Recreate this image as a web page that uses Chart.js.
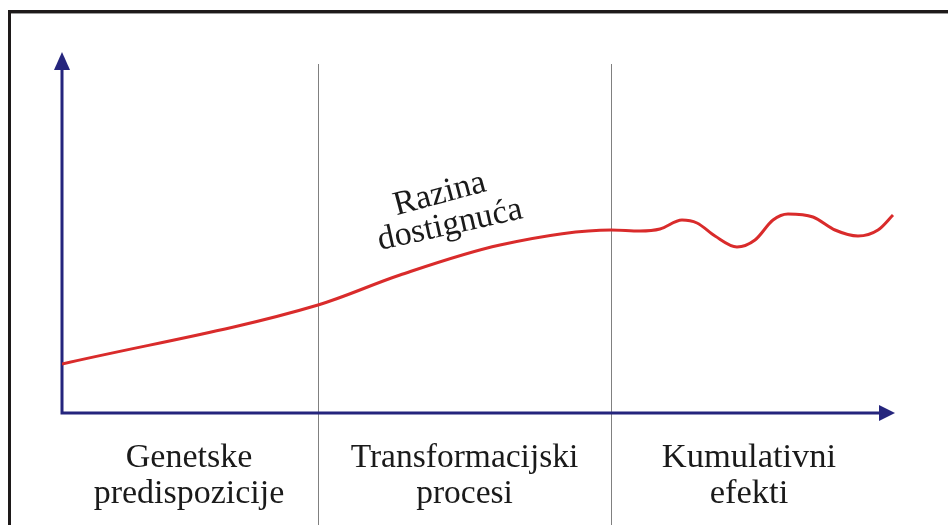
<!DOCTYPE html>
<html>
<head>
<meta charset="utf-8">
<script src="https://cdn.jsdelivr.net/npm/chart.js@4"></script>
<style>
  html, body { margin: 0; padding: 0; background: #fff; }
  #wrap { width: 948px; height: 525px; position: relative; }
</style>
</head>
<body>
<div id="wrap"><canvas id="razinaChart"></canvas></div>
<script>
// Podaci (x od ishodista osi, y iznad osi x)
const pointsX = [0, 256, 338, 438, 549, 578, 598, 620, 635, 653, 675, 693, 711, 726, 751, 773, 796, 816, 831];
const pointsY = [49, 108, 138, 168, 183, 182, 184, 193, 190, 177, 166, 173, 193, 199, 196, 183, 177, 183, 198];
const phaseBounds = [0, 256, 549, 833];
const phaseLabels = [['Genetske', 'predispozicije'], ['Transformacijski', 'procesi'], ['Kumulativni', 'efekti']];
const curveLabel = ['Razina', 'dostignuća'];

const axisColor = '#25257d';
const serif = '"Liberation Serif", "DejaVu Serif", serif';

// Okvir, osi sa strelicama, razdjelnici i tekst
const diagramPlugin = {
    id: 'diagram',
    beforeDatasetsDraw(chart) {
        const c = chart.ctx;
        const x = chart.scales.x, y = chart.scales.y;
        const x0 = x.getPixelForValue(0), y0 = y.getPixelForValue(0);
        const xEnd = x.getPixelForValue(833), yEnd = y.getPixelForValue(361);
        c.save();
        // okvir
        c.fillStyle = '#1e1a1a';
        c.fillRect(8, 10, 940, 3);
        c.fillRect(8, 10, 3, 515);
        c.fillStyle = '#9a9a9a';
        c.fillRect(11, 13, 937, 1);
        // razdjelnici faza
        c.strokeStyle = '#808080';
        c.lineWidth = 1;
        phaseBounds.slice(1, 3).forEach(v => {
            const px = Math.round(x.getPixelForValue(v)) + 0.5;
            c.beginPath();
            c.moveTo(px, 64);
            c.lineTo(px, 525);
            c.stroke();
        });
        // osi
        c.strokeStyle = axisColor;
        c.fillStyle = axisColor;
        c.lineWidth = 3;
        c.beginPath();
        c.moveTo(x0, yEnd + 14);
        c.lineTo(x0, y0);
        c.lineTo(xEnd - 14, y0);
        c.stroke();
        c.beginPath();
        c.moveTo(x0, yEnd);
        c.lineTo(x0 - 8, yEnd + 18);
        c.lineTo(x0 + 8, yEnd + 18);
        c.closePath();
        c.fill();
        c.beginPath();
        c.moveTo(xEnd, y0);
        c.lineTo(xEnd - 16, y0 - 8);
        c.lineTo(xEnd - 16, y0 + 8);
        c.closePath();
        c.fill();
        // oznake faza
        c.fillStyle = '#1a1a1a';
        c.textAlign = 'center';
        c.textBaseline = 'alphabetic';
        const sizes = [34, 33.5, 34.5];
        const shifts = [-1, 0, -4];
        phaseLabels.forEach((lines, i) => {
            const cx = (x.getPixelForValue(phaseBounds[i]) + x.getPixelForValue(phaseBounds[i + 1])) / 2 + shifts[i];
            c.font = sizes[i] + 'px ' + serif;
            lines.forEach((t, j) => c.fillText(t, cx, 467 + j * 36));
        });
        // natpis krivulje
        c.font = '34px ' + serif;
        c.save();
        c.translate(442, 203);
        c.rotate(-0.26);
        c.fillText(curveLabel[0], 0, 0);
        c.restore();
        c.translate(452, 234);
        c.rotate(-0.22);
        c.fillText(curveLabel[1], 0, 0);
        c.restore();
    }
};

const ctx = document.getElementById('razinaChart').getContext('2d');
const razinaChart = new Chart(ctx, {
    type: 'line',
    data: {
        datasets: [{
            data: pointsX.map((v, i) => ({ x: v, y: pointsY[i] })),
            borderColor: '#d92b2b',
            borderWidth: 3,
            pointRadius: 0,
            cubicInterpolationMode: 'monotone',
            fill: false
        }]
    },
    options: {
        responsive: true,
        maintainAspectRatio: false,
        animation: false,
        layout: { padding: { left: 62, right: 53, top: 52, bottom: 112 } },
        scales: {
            x: { type: 'linear', min: 0, max: 833, display: false },
            y: { min: 0, max: 361, display: false }
        },
        plugins: {
            legend: { display: false },
            tooltip: { enabled: false }
        }
    },
    plugins: [diagramPlugin]
});
</script>
</body>
</html>
